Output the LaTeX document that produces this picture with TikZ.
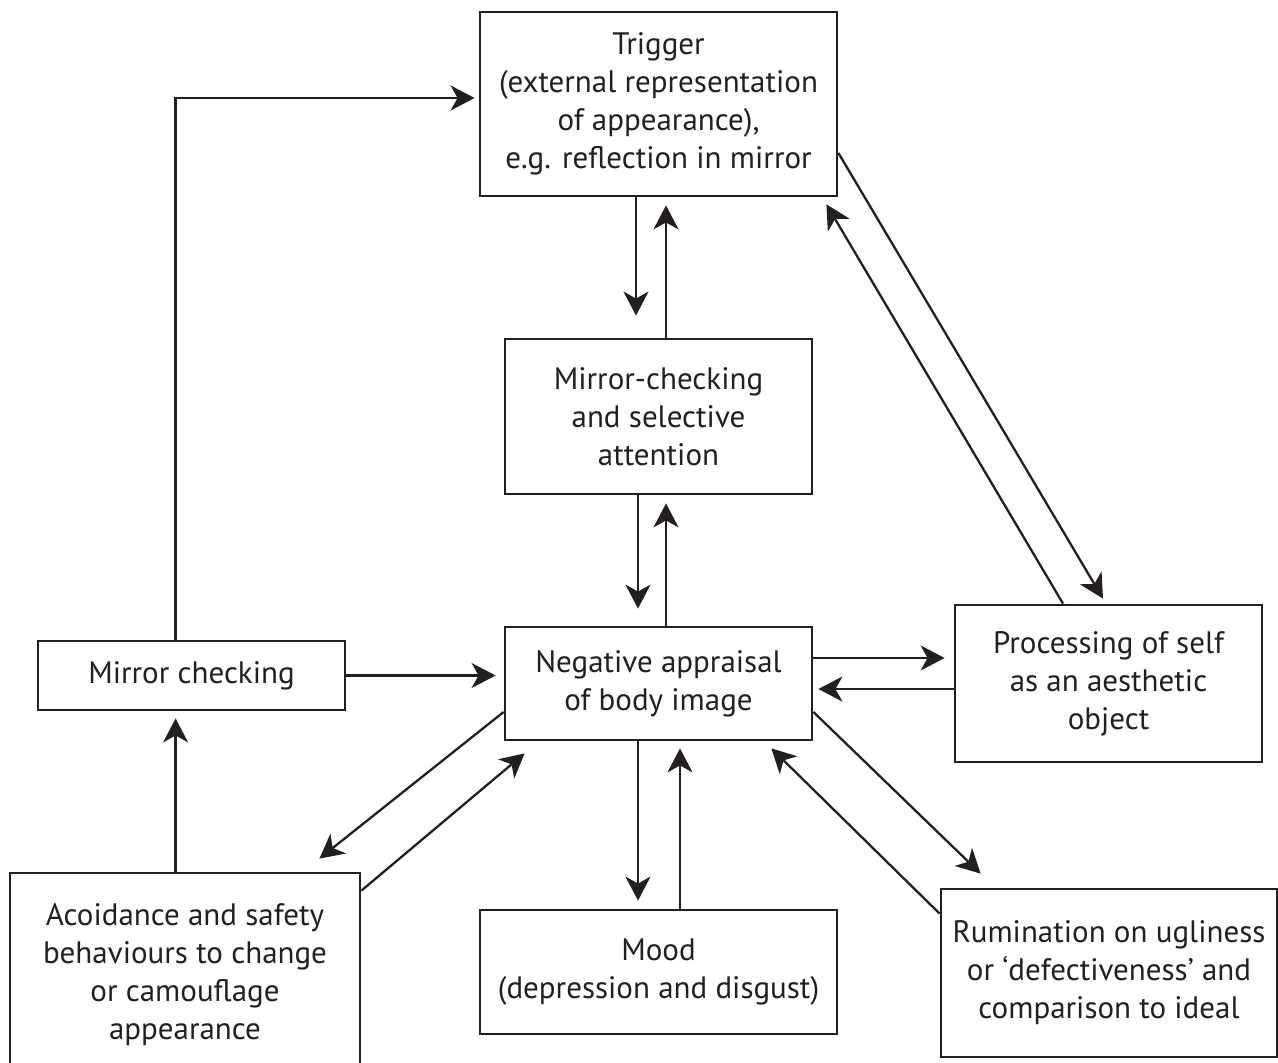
\documentclass[tikz,border=0pt]{standalone}
\usepackage{fontspec}
\setmainfont{PT Sans}
\usetikzlibrary{arrows.meta,calc}
\definecolor{ink}{RGB}{35,31,32}
\begin{document}
\begin{tikzpicture}[x=0.5pt,y=-0.5pt,
  box/.style={draw=ink,line width=1.4pt,rectangle,inner sep=0pt,align=center,text=ink,font=\fontsize{15.5}{19}\selectfont},
  arr/.style={draw=ink,line width=1.15pt,-{Stealth[length=12pt,width=12.5pt,inset=3.5pt]}}]
\useasboundingbox (0,0) rectangle (1278,1063);
\node[box,minimum width=178.5pt,minimum height=92pt] (trig) at (658.5,104) {Trigger\\(external representation\\of appearance),\\e.g. reflection in mirror};
\node[box,minimum width=153.5pt,minimum height=77.5pt] (msa) at (658.5,416.5) {Mirror-checking\\and selective\\attention};
\node[box,minimum width=153.5pt,minimum height=56.5pt] (neg) at (658.5,683.5) {Negative appraisal\\of body image};
\node[box,minimum width=153.5pt,minimum height=34.5pt] (mc) at (191.5,675.5) {Mirror checking};
\node[box,minimum width=153.5pt,minimum height=78.5pt] (proc) at (1108.5,683.5) {Processing of self\\as an aesthetic\\object};
\node[box,minimum width=175pt,minimum height=101.5pt] (avoid) at (185,974.5) {Acoidance and safety\\behaviours to change\\or camouflage\\appearance};
\node[box,minimum width=178.5pt,minimum height=62pt] (mood) at (658.5,972) {Mood\\(depression and disgust)};
\node[box,minimum width=168pt,minimum height=84pt] (rum) at (1109,973) {Rumination on ugliness\\or ‘defectiveness’ and\\comparison to ideal};
% loops
\draw[arr] ($(mc.north west)+(139,0)$) |- ($(trig.west)+(-4,-6)$);
\draw[arr] ($(avoid.north west)+(167,0)$) -- ($(mc.south west)+(139,7)$);
\draw[arr] (mc.east) -- ($(mc.east -| neg.west)+(-8,0)$);
% vertical pairs
\draw[arr] ($(trig.south)+(-22.5,0)$) -- ($(msa.north)+(-22.5,-22)$);
\draw[arr] ($(msa.north)+(7.5,0)$) -- ($(trig.south)+(7.5,8)$);
\draw[arr] ($(msa.south)+(-20.5,0)$) -- ($(neg.north)+(-20.5,-17)$);
\draw[arr] ($(neg.north)+(7.5,0)$) -- ($(msa.south)+(7.5,8)$);
\draw[arr] ($(neg.south)+(-20.5,0)$) -- ($(mood.north)+(-20.5,-8)$);
\draw[arr] ($(mood.north)+(21.5,0)$) -- ($(neg.south)+(21.5,7)$);
% horizontal pair
\draw[arr] ($(neg.east)+(0,-25.5)$) -- ($(proc.west)+(-9,-25.5)$);
\draw[arr] ($(proc.west)+(0,5.5)$) -- ($(neg.east)+(5,5.5)$);
% diagonals
\draw[arr] ($(trig.east)+(0,49)$) -- ($(proc.north)+(-5.5,-5)$);
\draw[arr] ($(proc.north)+(-45.5,0)$) -- ($(trig.south east)+(-12,7)$);
\draw[arr] ($(neg.west)+(0,28.5)$) -- ($(avoid.north east)+(-42,-13)$);
\draw[arr] ($(avoid.north east)+(0,19)$) -- ($(neg.south west)+(21,12)$);
\draw[arr] ($(neg.east)+(0,28.5)$) -- ($(rum.north west)+(41,-14)$);
\draw[arr] ($(rum.north west)+(0,26)$) -- ($(neg.south east)+(-42,7)$);
\end{tikzpicture}
\end{document}
